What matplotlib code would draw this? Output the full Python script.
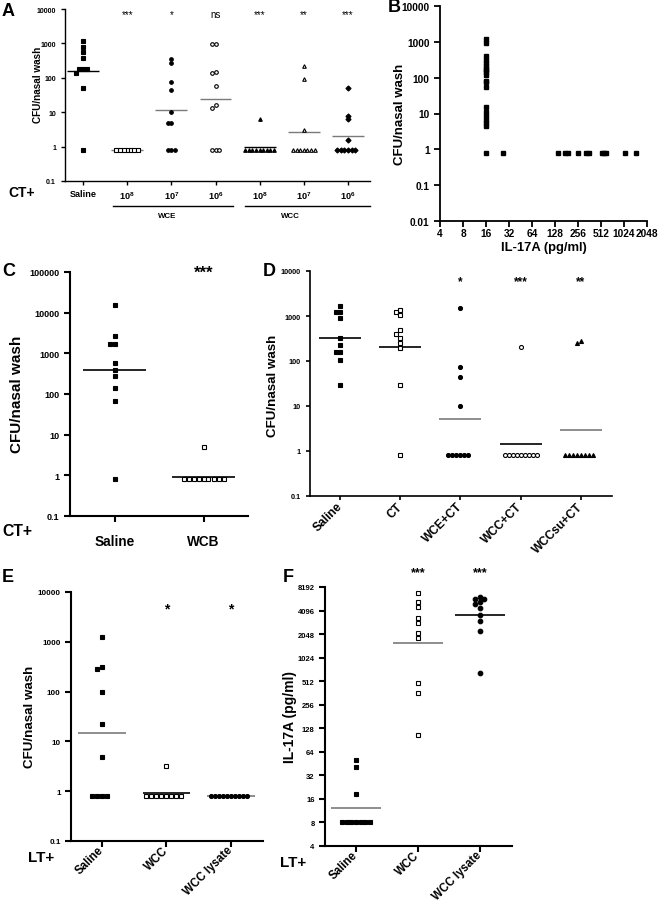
import numpy as np
import matplotlib.pyplot as plt
from matplotlib.lines import Line2D
from matplotlib.ticker import NullLocator

plt.rcParams['font.family'] = ['Liberation Sans', 'DejaVu Sans']
plt.rcParams['font.weight'] = 'bold'
plt.rcParams['mathtext.fontset'] = 'custom'
plt.rcParams['mathtext.rm'] = 'Liberation Sans:bold'
plt.rcParams['mathtext.it'] = 'Liberation Sans:bold'
plt.rcParams['mathtext.bf'] = 'Liberation Sans:bold'

# ---------------- data ----------------
cfu_ticks = [0.1, 1, 10, 100, 1000, 10000]
cfu_labels = ['0.1', '1', '10', '100', '1000', '10000']

# panel A
a_ticks = ['Saline', '10$^8$', '10$^7$', '10$^6$', '10$^8$', '10$^7$', '10$^6$']
a_saline = [1170, 800, 560, 380, 175, 175, 175, 140, 51, 0.8]
a_wce8 = [0.8, 0.8, 0.8, 0.8, 0.8, 0.8, 0.8]
a_wce7 = [357, 261, 76, 44, 10, 4.7, 4.7, 0.8, 0.8, 0.8]
a_wce6 = [990, 930, 150, 135, 58, 16, 13, 0.8, 0.8, 0.8]
a_wcc8 = [6.4, 0.8, 0.8, 0.8, 0.8, 0.8, 0.8, 0.8, 0.8, 0.8]
a_wcc7 = [220, 95, 3.0, 0.8, 0.8, 0.8, 0.8, 0.8, 0.8, 0.8]
a_wcc6 = [50, 8, 6.3, 1.6, 0.8, 0.8, 0.8, 0.8, 0.8, 0.8]
a_means = [155, 0.8, 11.4, 25, 1.0, 2.6, 2.0]
a_sig = ['***', '*', 'ns', '***', '**', '***']
a_subgroups = ['WCE', 'WCC']

# panel B
b_il17 = [16] * 20 + [27, 142, 175, 190, 256, 330, 360, 530, 560, 600, 1040, 1480]
b_cfu = [1200, 930, 400, 320, 250, 210, 180, 160, 140, 120, 80, 75, 54,
         15, 10.7, 8.5, 6.8, 5.5, 4.6, 0.8] + [0.8] * 12
b_xticks = [4, 8, 16, 32, 64, 128, 256, 512, 1024, 2048]
b_yticks = [0.01, 0.1, 1, 10, 100, 1000, 10000]
b_ylabels = ['0.01', '0.1', '1', '10', '100', '1000', '10000']

# panel C
c_ticks = ['Saline', 'WCB']
c_saline = [15500, 2600, 1700, 1700, 580, 390, 270, 140, 68, 0.8]
c_wcb = [4.9, 0.8, 0.8, 0.8, 0.8, 0.8, 0.8, 0.8, 0.8, 0.8]
c_means = [390, 0.9]
c_sig = ['', '***']

# panel D
d_ticks = ['Saline', 'CT', 'WCE+CT', 'WCC+CT', 'WCCsu+CT']
d_saline = [1700, 1230, 1230, 900, 325, 222, 158, 158, 105, 29]
d_ct = [1330, 1230, 1070, 480, 400, 330, 255, 194, 29, 0.8]
d_wce = [1530, 73, 43, 9.8, 0.8, 0.8, 0.8, 0.8, 0.8, 0.8]
d_wcc = [208, 0.8, 0.8, 0.8, 0.8, 0.8, 0.8, 0.8, 0.8, 0.8]
d_wccsu = [278, 250, 0.8, 0.8, 0.8, 0.8, 0.8, 0.8, 0.8, 0.8]
d_means = [325, 205, 5.1, 1.43, 2.9]
d_sig = ['', '', '*', '***', '**']

# panel E
e_ticks = ['Saline', 'WCC', 'WCC lysate']
e_saline = [1220, 315, 290, 96, 22, 4.9, 0.8, 0.8, 0.8, 0.8]
e_wcc = [3.2, 0.8, 0.8, 0.8, 0.8, 0.8, 0.8, 0.8, 0.8]
e_lysate = [0.8] * 10
e_means = [14.7, 0.92, 0.8]
e_sig = ['', '*', '*']

# panel F
f_ticks = ['Saline', 'WCC', 'WCC lysate']
f_saline = [50.6, 41, 18.3, 8.1, 8.1, 8.1, 8.1, 8.1, 8.1, 8.1]
f_wcc = [6800, 5200, 4500, 3260, 2800, 2130, 1850, 485, 365, 106]
f_lysate = [6080, 5800, 5800, 5200, 4970, 4400, 3560, 3000, 2250, 650]
f_means = [12.4, 1590, 3560]
f_sig = ['', '***', '***']
il_ticks = [4, 8, 16, 32, 64, 128, 256, 512, 1024, 2048, 4096, 8192]

# ---------------- figure ----------------
W, H = 659, 904
fig = plt.figure(figsize=(W / 100, H / 100), dpi=100)
GRAY = '#7a7a7a'


def add_ax(l, t, r, b):
    return fig.add_axes([l / W, 1 - b / H, (r - l) / W, (b - t) / H])


def ftext(x, y, s, size, **kw):
    fig.text(x / W, 1 - y / H, s, fontsize=size, fontweight='bold', **kw)


def fline(x1, x2, y, lw=1.0):
    fig.add_artist(Line2D([x1 / W, x2 / W], [1 - y / H] * 2, color='black',
                          lw=lw, transform=fig.transFigure))


def style(ax, lw, ticklen=3):
    ax.spines['top'].set_visible(False)
    ax.spines['right'].set_visible(False)
    ax.spines['left'].set_linewidth(lw)
    ax.spines['bottom'].set_linewidth(lw)
    ax.tick_params(direction='out', width=lw, length=ticklen)
    ax.yaxis.set_minor_locator(NullLocator())
    ax.xaxis.set_minor_locator(NullLocator())


def swarm(ax, x0, vals, size_px):
    # spread points that would overlap, in pixel space
    t = ax.transData
    unit = t.transform((1, 1))[0] - t.transform((0, 1))[0]
    order = [0, -1, 1, -2, 2, -3, 3, -4, 4, -5, 5, -6, 6]
    placed = []
    xs = []
    for v in vals:
        py = t.transform((x0, v))[1]
        for k in order:
            px = k * size_px
            if all(abs(px - qx) >= size_px * 0.95 or abs(py - qy) >= size_px * 0.95
                   for qx, qy in placed):
                break
        placed.append((px, py))
        xs.append(x0 + px / unit)
    return xs


def draw_group(ax, x0, vals, marker, filled, size_px, mean, mcolor, half=0.35, lw=1.2):
    xs = swarm(ax, x0, vals, size_px)
    fc = 'black' if filled else 'white'
    ax.plot(xs, vals, ls='none', marker=marker, ms=size_px * 0.72, mfc=fc,
            mec='black', mew=0.8, clip_on=False, zorder=3)
    ax.hlines(mean, x0 - half, x0 + half, colors=mcolor, lw=lw, zorder=2)


def cfu_axis(ax, size):
    ax.set_yscale('log')
    ax.set_yticks(cfu_ticks)
    ax.set_yticklabels(cfu_labels, fontsize=size)


def slanted(ax, labels, size, pad):
    ax.set_xticks(range(len(labels)))
    ax.set_xticklabels(labels, fontsize=size, rotation=45, ha='right',
                       va='center', rotation_mode='anchor')
    ax.tick_params(axis='x', pad=pad)


# ---- A ----
axA = add_ax(65, 10, 370, 182)
cfu_axis(axA, 5)
axA.set_ylim(0.1, 10000)
axA.set_xlim(-0.41, 6.5)
style(axA, 1.0)
axA.set_xticks(range(7))
axA.set_xticklabels(a_ticks, fontsize=6.6)
axA.tick_params(axis='x', pad=3)
a_sets = [a_saline, a_wce8, a_wce7, a_wce6, a_wcc8, a_wcc7, a_wcc6]
a_marks = [('s', True), ('s', False), ('o', True), ('o', False),
           ('^', True), ('^', False), ('D', True)]
a_lc = ['black', GRAY, GRAY, GRAY, 'black', GRAY, GRAY]
for i, vals in enumerate(a_sets):
    m, f = a_marks[i]
    draw_group(axA, i, vals, m, f, 3.6, a_means[i], a_lc[i], half=0.36, lw=1.0)
for i, s in enumerate(a_sig):
    axA.text(i + 1, 7000, s, ha='center', va='center', fontsize=7, fontweight='normal')
ftext(2, 11, 'A', 13, va='center')
ftext(38, 85, 'CFU/nasal wash', 7.2, rotation=90, ha='center', va='center')
ftext(8, 193, 'CT+', 10, va='center')
fline(113, 233, 207)
fline(245, 370, 207)
ftext(167, 217, a_subgroups[0], 5.7, ha='center', va='center')
ftext(290, 217, a_subgroups[1], 5.7, ha='center', va='center')

# ---- B ----
axB = add_ax(440, 7, 647, 222)
axB.set_xscale('log', base=2)
axB.set_yscale('log')
axB.set_xlim(4, 2048)
axB.set_ylim(0.01, 10000)
style(axB, 1.3, 4)
axB.set_xticks(b_xticks)
axB.set_xticklabels([str(v) for v in b_xticks], fontsize=7.3)
axB.set_yticks(b_yticks)
axB.set_yticklabels(b_ylabels, fontsize=7.3)
axB.tick_params(axis='x', pad=1)
axB.plot(b_il17, b_cfu, ls='none', marker='s', ms=3.2, color='black', clip_on=False)
axB.set_xlabel('IL-17A (pg/ml)', fontsize=9.4, fontweight='bold', labelpad=2)
ftext(388, 7, 'B', 13, va='center')
ftext(400, 114, 'CFU/nasal wash', 9.5, rotation=90, ha='center', va='center')

# ---- C ----
axC = add_ax(70, 273, 248, 517)
axC.set_yscale('log')
axC.set_yticks([0.1, 1, 10, 100, 1000, 10000, 100000])
axC.set_yticklabels(cfu_labels + ['100000'], fontsize=6.5)
axC.set_ylim(0.1, 100000)
axC.set_xlim(-0.5, 1.5)
style(axC, 1.5, 4)
axC.set_xticks(range(2))
axC.set_xticklabels(c_ticks, fontsize=9.8)
axC.tick_params(axis='x', pad=9)
draw_group(axC, 0, c_saline, 's', True, 5, c_means[0], 'black', half=0.35)
draw_group(axC, 1, c_wcb, 's', False, 5, c_means[1], 'black', half=0.35)
for i, s in enumerate(c_sig):
    if s:
        axC.text(i, 100000, s, ha='center', va='center', fontsize=12, clip_on=False)
ftext(2, 272, 'C', 13, va='center')
ftext(17, 394, 'CFU/nasal wash', 11, rotation=90, ha='center', va='center')
ftext(2, 532, 'CT+', 11.3, va='center')

# ---- D ----
axD = add_ax(310, 272, 612, 497)
cfu_axis(axD, 5.2)
axD.set_ylim(0.1, 10000)
axD.set_xlim(-0.5, 4.52)
style(axD, 1.2, 3)
slanted(axD, d_ticks, 8.6, 3)
d_sets = [d_saline, d_ct, d_wce, d_wcc, d_wccsu]
d_marks = [('s', True), ('s', False), ('o', True), ('o', False), ('^', True)]
d_lc = ['black', 'black', GRAY, 'black', GRAY]
for i, vals in enumerate(d_sets):
    m, f = d_marks[i]
    draw_group(axD, i, vals, m, f, 4, d_means[i], d_lc[i], half=0.35)
for i, s in enumerate(d_sig):
    if s:
        axD.text(i, 6000, s, ha='center', va='center', fontsize=8.5, clip_on=False)
ftext(263, 272, 'D', 13, va='center')
ftext(273, 386, 'CFU/nasal wash', 9.6, rotation=90, ha='center', va='center')

# ---- E ----
axE = add_ax(71, 593, 263, 842)
cfu_axis(axE, 5.9)
axE.set_ylim(0.1, 10000)
axE.set_xlim(-0.48, 2.5)
style(axE, 1.5, 4)
slanted(axE, e_ticks, 8.3, 1)
e_sets = [e_saline, e_wcc, e_lysate]
e_marks = [('s', True), ('s', False), ('o', True)]
e_lc = [GRAY, 'black', GRAY]
for i, vals in enumerate(e_sets):
    m, f = e_marks[i]
    draw_group(axE, i, vals, m, f, 5 if i < 2 else 4, e_means[i], e_lc[i], half=0.37)
for i, s in enumerate(e_sig):
    if s:
        axE.text(i, 4570, s, ha='center', va='center', fontsize=10, clip_on=False)
ftext(2, 577, 'E', 13, va='center')
ftext(30, 717, 'CFU/nasal wash', 9.6, rotation=90, ha='center', va='center')
ftext(28, 858, 'LT+', 11, va='center')

# ---- F ----
axF = add_ax(325, 588, 512, 847)
axF.set_yscale('log', base=2)
axF.set_ylim(4, 8192)
axF.set_xlim(-0.5, 2.52)
style(axF, 1.5, 4)
axF.set_yticks(il_ticks)
axF.set_yticklabels([str(v) for v in il_ticks], fontsize=5.5)
axF.yaxis.set_minor_locator(NullLocator())
slanted(axF, f_ticks, 8.3, 1)
f_sets = [f_saline, f_wcc, f_lysate]
f_marks = [('s', True), ('s', False), ('o', True)]
f_lc = [GRAY, GRAY, 'black']
for i, vals in enumerate(f_sets):
    m, f = f_marks[i]
    draw_group(axF, i, vals, m, f, 4.6, f_means[i], f_lc[i], half=0.4)
for i, s in enumerate(f_sig):
    if s:
        axF.text(i, 12800, s, ha='center', va='center', fontsize=9, clip_on=False)
ftext(283, 577, 'F', 13, va='center')
ftext(290, 717, 'IL-17A (pg/ml)', 10, rotation=90, ha='center', va='center')
ftext(280, 863, 'LT+', 11, va='center')

fig.savefig('out.png', dpi=100)
